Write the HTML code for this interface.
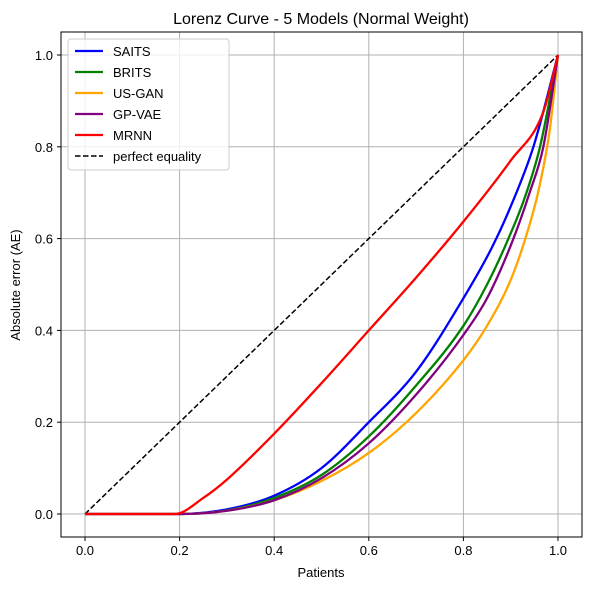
<!DOCTYPE html>
<html><head><meta charset="utf-8"><style>
body{margin:0;background:#fff;}
svg{display:block;font-family:"Liberation Sans","DejaVu Sans",sans-serif;}
</style></head><body>
<svg id="chart" width="590" height="590">
<rect x="0" y="0" width="590" height="590" fill="#fff"/>
<g id="grid"></g>
<g id="ticks"></g>
<g id="series"></g>
<rect x="61" y="32" width="521" height="505" fill="none" stroke="#000" stroke-width="1"/>
<text x="321" y="24" font-size="16" text-anchor="middle">Lorenz Curve - 5 Models (Normal Weight)</text>
<text x="321" y="577" font-size="13" text-anchor="middle">Patients</text>
<text x="20" y="285" font-size="13" text-anchor="middle" transform="rotate(-90 20 285)">Absolute error (AE)</text>
<g id="legend"></g>
</svg>
<script>
const ticks = [0, 0.2, 0.4, 0.6, 0.8, 1.0];
const tickLabels = ["0.0", "0.2", "0.4", "0.6", "0.8", "1.0"];
const seriesNames = ["SAITS", "BRITS", "US-GAN", "GP-VAE", "MRNN"];
const seriesColors = ["#0000ff", "#008000", "#ffa500", "#800080", "#ff0000"];
const saitsX = [0,0.2,0.3,0.4,0.5,0.6,0.7,0.8,0.86,0.9,0.948,1];
const saitsY = [0,0,0.01,0.04,0.1,0.2,0.31,0.47,0.58,0.67,0.8,1];
const britsX = [0,0.2,0.3,0.4,0.5,0.6,0.7,0.8,0.85,0.891,0.93,0.962,1];
const britsY = [0,0,0.008,0.035,0.085,0.169,0.28,0.41,0.5,0.59,0.69,0.8,1];
const usganX = [0,0.2,0.3,0.4,0.5,0.6,0.7,0.8,0.85,0.9,0.934,0.96,0.983,1];
const usganY = [0,0,0.007,0.03,0.072,0.133,0.22,0.335,0.41,0.51,0.61,0.71,0.84,1];
const gpvaeX = [0,0.2,0.3,0.4,0.5,0.6,0.7,0.8,0.85,0.902,0.94,0.969,1];
const gpvaeY = [0,0,0.007,0.03,0.078,0.154,0.26,0.39,0.47,0.59,0.7,0.8,1];
const mrnnX = [0,0.19,0.25,0.3,0.4,0.5,0.6,0.7,0.8,0.9,0.969,1];
const mrnnY = [0,0,0.035,0.075,0.175,0.285,0.40,0.515,0.637,0.77,0.876,1];
const equalityX = [0, 1];
const equalityY = [0, 1];

const NS = "http://www.w3.org/2000/svg";
function sx(v){ return 85 + v * 473; }
function sy(v){ return 514 - v * 459; }
function mk(tag, attrs, parent){ const e = document.createElementNS(NS, tag); for (const k in attrs) e.setAttribute(k, attrs[k]); parent.appendChild(e); return e; }

const grid = document.getElementById('grid');
const tg = document.getElementById('ticks');
ticks.forEach((t, i) => {
  const gv = mk('line', {x1: sx(t), x2: sx(t), y1: 32, y2: 537, stroke: '#b0b0b0', 'stroke-width': 1}, grid);
  
  
  const gh = mk('line', {x1: 61, x2: 582, y1: sy(t), y2: sy(t), stroke: '#b0b0b0', 'stroke-width': 1}, grid);
  
  
  mk('line', {x1: sx(t), x2: sx(t), y1: 537, y2: 541, stroke: '#000'}, tg);
  mk('line', {x1: 57, x2: 61, y1: sy(t), y2: sy(t), stroke: '#000'}, tg);
  const xl = mk('text', {x: sx(t), y: 555, 'font-size': 13, 'text-anchor': 'middle'}, tg);
  xl.textContent = tickLabels[i];
  
  
  const yl = mk('text', {x: 53, y: sy(t) + 5, 'font-size': 13, 'text-anchor': 'end'}, tg);
  yl.textContent = tickLabels[i];
  
  
});

// monotone cubic (Fritsch-Carlson) interpolation
function monoPath(xs, ys){
  const n = xs.length, d = [], m = [];
  for (let i = 0; i < n - 1; i++) d.push((ys[i+1] - ys[i]) / (xs[i+1] - xs[i]));
  m.push(d[0]);
  for (let i = 1; i < n - 1; i++) m.push(d[i-1] * d[i] <= 0 ? 0 : (d[i-1] + d[i]) / 2);
  m.push(d[n-2]);
  for (let i = 0; i < n - 1; i++) {
    if (d[i] === 0) { m[i] = 0; m[i+1] = 0; continue; }
    const a = m[i] / d[i], b = m[i+1] / d[i], s = a*a + b*b;
    if (s > 9) { const t = 3 / Math.sqrt(s); m[i] = t*a*d[i]; m[i+1] = t*b*d[i]; }
  }
  let p = 'M' + sx(xs[0]) + ',' + sy(ys[0]);
  for (let i = 0; i < n - 1; i++) {
    const h = xs[i+1] - xs[i];
    p += ' C' + sx(xs[i] + h/3) + ',' + sy(ys[i] + m[i]*h/3) + ' ' + sx(xs[i+1] - h/3) + ',' + sy(ys[i+1] - m[i+1]*h/3) + ' ' + sx(xs[i+1]) + ',' + sy(ys[i+1]);
  }
  return p;
}

const sg = document.getElementById('series');
const eq = mk('path', {d: 'M' + sx(equalityX[0]) + ',' + sy(equalityY[0]) + ' L' + sx(equalityX[1]) + ',' + sy(equalityY[1]), stroke: '#000', 'stroke-width': 1.5, 'stroke-dasharray': '5.5,2.5', fill: 'none'}, sg);


const sxs = [saitsX, britsX, usganX, gpvaeX, mrnnX];
const sys = [saitsY, britsY, usganY, gpvaeY, mrnnY];
const order = [0, 1, 2, 3, 4];
order.forEach(i => {
  const pth = mk('path', {d: monoPath(sxs[i], sys[i]), stroke: seriesColors[i], 'stroke-width': 2.3, fill: 'none', 'stroke-linejoin': 'round'}, sg);
  
  
});

const lg = document.getElementById('legend');
mk('rect', {x: 68, y: 39, width: 161, height: 131, rx: 3, fill: '#fff', 'fill-opacity': 0.8, stroke: '#ccc'}, lg);
const labels = seriesNames.concat(['perfect equality']);
labels.forEach((name, i) => {
  const y = 51 + i * 21;
  const ln = mk('line', {x1: 75, x2: 103, y1: y, y2: y, stroke: i < 5 ? seriesColors[i] : '#000', 'stroke-width': i < 5 ? 2.3 : 1.5}, lg);
  if (i === 5) ln.setAttribute('stroke-dasharray', '5.5,2.5');
  
  
  const tx = mk('text', {x: 113, y: y + 5, 'font-size': 13}, lg);
  tx.textContent = name;
  
  
});
</script>
</body></html>
